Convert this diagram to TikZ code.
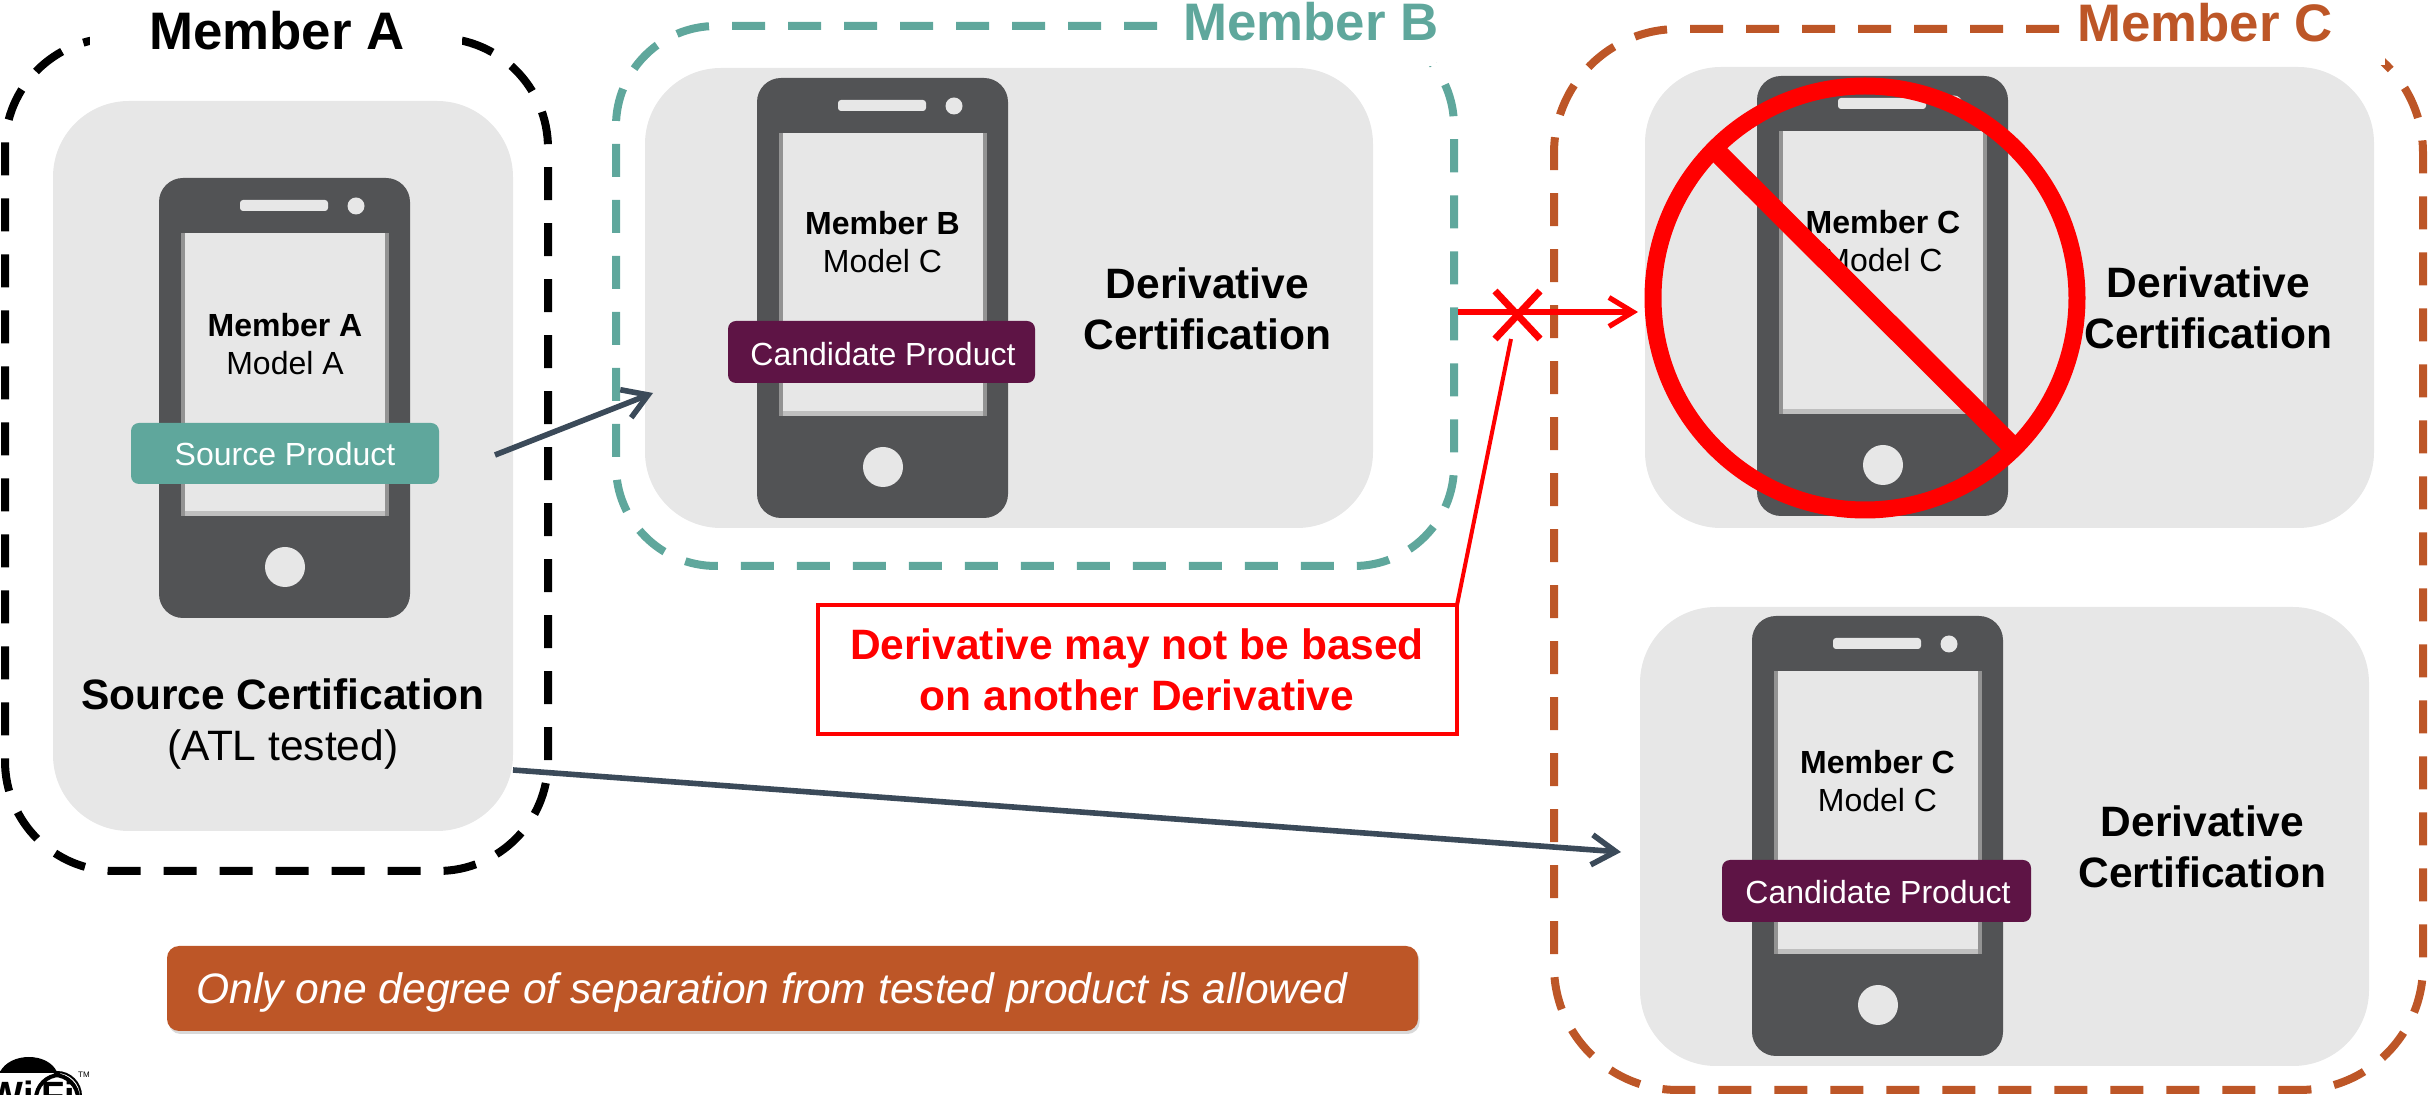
\documentclass[tikz,border=0pt]{standalone}
\usepackage{fontspec}
\setmainfont{Liberation Sans}
\usetikzlibrary{arrows.meta,shadows,shapes.geometric}
\definecolor{teal}{HTML}{5FA79C}
\definecolor{rust}{HTML}{BD5627}
\definecolor{plum}{HTML}{5E1445}
\definecolor{panel}{HTML}{E7E7E7}
\definecolor{phonegray}{HTML}{525355}
\definecolor{slateline}{HTML}{3B4A59}
\definecolor{pure}{HTML}{FF0000}
\tikzset{
  panelbox/.style={fill=panel,rounded corners=38pt},
  memberdash/.style={line width=4pt,dash pattern=on 16.5pt off 11.5pt},
  title/.style={font=\fontsize{26.4}{30}\selectfont\bfseries,inner sep=0pt},
  certif/.style={font=\fontsize{21.25}{25.5}\selectfont,align=center,inner sep=0pt},
  screentext/.style={font=\fontsize{16}{19}\selectfont,align=center,inner sep=0pt},
  tag/.style={rounded corners=4pt,text=white,font=\fontsize{16}{19}\selectfont},
  flowarrow/.style={draw=slateline,line width=2.8pt,-{Straight Barb[length=12pt,width=15pt,line width=2.8pt]}},
  redstroke/.style={draw=pure},
}
\newcommand\pbox[6]{%
  \pgfmathsetmacro\pbw{(#5-#3)*0.5}%
  \pgfmathsetmacro\pbh{(#6-#4)*0.5}%
  \node[#1,minimum width=\pbw pt,minimum height=\pbh pt,inner sep=0pt,outer sep=0pt] (#2) at ({(#3+#5)/2},{(#4+#6)/2}) {};}
% name, left, top of a phone (250 x 440 px)
\newcommand\phone[3]{%
  \begin{scope}[shift={(#2,#3)}]
    \pbox{fill=phonegray,rounded corners=12pt}{#1}{0}{0}{251}{440}
    \pbox{fill=gray!85}{#1edge}{22}{55}{230}{338}
    \pbox{fill=gray!50}{#1strip}{26}{330}{226}{338}
    \pbox{fill=panel}{#1screen}{26}{55}{226}{333}
    \pbox{fill=panel,rounded corners=1.5pt}{#1speaker}{81}{22}{169}{33}
    \node[fill=panel,circle,inner sep=0pt,minimum size=8.5pt] (#1dot) at (197,28) {};
    \node[fill=panel,circle,inner sep=0pt,minimum size=20pt] (#1home) at (126,389) {};
  \end{scope}}
\begin{document}
\begin{tikzpicture}[x=0.5pt,y=-0.5pt]
\useasboundingbox (0,0) rectangle (2433,1095);
\clip (0,0) rectangle (2433,1095);

% --- Member A
\pbox{panelbox}{ga}{53}{101}{513}{831}
\phone{pa}{159}{178}
\draw[memberdash,black,rounded corners=55pt,dash phase=3pt] (300,38) -- (548,38) -- (548,871) -- (5,871) -- (5,38) -- (300,38);
\pbox{fill=white}{coa}{90}{10}{462}{70}
\node[title] (ta) at (277,31) {Member A};
\node[screentext] (ma) at (285,344) {\textbf{Member A}\\Model A};
\pbox{tag,fill=teal}{sp}{131}{423}{439}{484}
\node[tag,fill=none] (spt) at (285,454) {Source Product};
\node[certif] (sc) at (283,724) {\textbf{Source Certification}\\(ATL tested)};

% --- Member B
\pbox{panelbox}{gb}{645}{68}{1373}{528}
\phone{pb}{757}{78}
\draw[memberdash,teal,rounded corners=50pt] (1157,26) -- (616,26) -- (616,566) -- (1454,566) -- (1454,26) -- (1300,26);
\pbox{fill=white}{cob}{1160}{0}{1436}{66}
\node[title,text=teal] (tb) at (1311,22) {Member B};
\node[screentext] (mb) at (882.5,242) {\textbf{Member B}\\Model C};
\pbox{tag,fill=plum}{cb}{728}{321}{1035}{383}
\node[tag,fill=none] (cbt) at (883,354) {Candidate Product};
\node[certif] (db) at (1207.5,309) {\textbf{Derivative}\\\textbf{Certification}};

% --- Member C
\pbox{panelbox}{gc}{1645}{67}{2374}{528}
\phone{pc}{1757}{76}
\draw[memberdash,rust,rounded corners=62pt] (2059,29) -- (1554,29) -- (1554,1090) -- (2423,1090) -- (2423,29) -- (2200,29);
\pbox{fill=white}{coc}{2064}{0}{2385}{65}
\node[title,text=rust] (tc) at (2205,23) {Member C};
\node[screentext] (mc) at (1883,241) {\textbf{Member C}\\Model C};
\node[certif] (dc) at (2208.5,308) {\textbf{Derivative}\\\textbf{Certification}};
\node[draw=pure,line width=8.5pt,ellipse,inner sep=0pt,minimum width=212pt,minimum height=212pt] (ring) at (1865,298) {};
\coordinate (nos) at (1719,154);
\coordinate (noe) at (2009,443);
\draw[redstroke,line width=10pt] (nos) -- (noe);

\pbox{panelbox}{gd}{1640}{607}{2369}{1066}
\phone{pd}{1752}{616}
\node[screentext] (md) at (1877.5,781) {\textbf{Member C}\\Model C};
\pbox{tag,fill=plum}{cd}{1722}{860}{2031}{922}
\node[tag,fill=none] (cdt) at (1878,892) {Candidate Product};
\node[certif] (dd) at (2202.5,847) {\textbf{Derivative}\\\textbf{Certification}};

% --- Connectors
\coordinate (a1s) at (495,455);
\coordinate (a1e) at (653,393);
\draw[flowarrow] (a1s) -- (a1e);
\coordinate (a2s) at (513,770);
\coordinate (a2e) at (1621,852);
\draw[flowarrow] (a2s) -- (a2e);
\coordinate (a3s) at (1458,312);
\coordinate (a3e) at (1638,312);
\draw[redstroke,line width=2.6pt,-{Straight Barb[length=12pt,width=14.5pt,line width=2.6pt]}] (a3s) -- (a3e);
\coordinate (xa) at (1495,291);
\coordinate (xb) at (1540,339);
\coordinate (xc) at (1540,291);
\coordinate (xd) at (1495,339);
\draw[redstroke,line width=3.5pt] (xa) -- (xb) (xc) -- (xd);
\coordinate (xfoot) at (1511,339);

% --- Callout
\pbox{draw=pure,line width=2pt,fill=white}{note}{818}{605}{1457}{734}
\node[certif,text=pure] (notet) at (1137,670) {\textbf{Derivative may not be based}\\\textbf{on another Derivative}};
\draw[redstroke,line width=2pt] (xfoot) -- (note.north east);

% --- Banner
\pbox{fill=rust,rounded corners=6pt,drop shadow={shadow xshift=0.8pt,shadow yshift=-1.5pt,opacity=.3}}{ban}{167}{946}{1418}{1031}
\node[inner sep=0pt,anchor=west,text=white,font=\fontsize{21.3}{25}\selectfont\itshape] (bant) at (196,992) {Only one degree of separation from tested product is allowed};

% --- Logo
\fill[black] (0,1072) .. controls (10,1052) and (48,1052) .. (57,1072) -- cycle;
\pbox{draw=black,line width=1pt,fill=white,rounded corners=12pt}{logo}{-30}{1072}{81}{1140}
\pbox{draw=black,line width=2pt,fill=white,rounded corners=12pt}{logof}{36}{1075}{78}{1140}
\node[inner sep=0pt,font=\fontsize{19}{22}\selectfont\bfseries] (lwi) at (11,1095) {Wi};
\node[inner sep=0pt,font=\fontsize{19}{22}\selectfont\bfseries] (lfi) at (58,1095) {Fi};
\node[inner sep=0pt,font=\fontsize{4}{5}\selectfont] (ltm) at (84,1075) {TM};
\end{tikzpicture}
\end{document}
